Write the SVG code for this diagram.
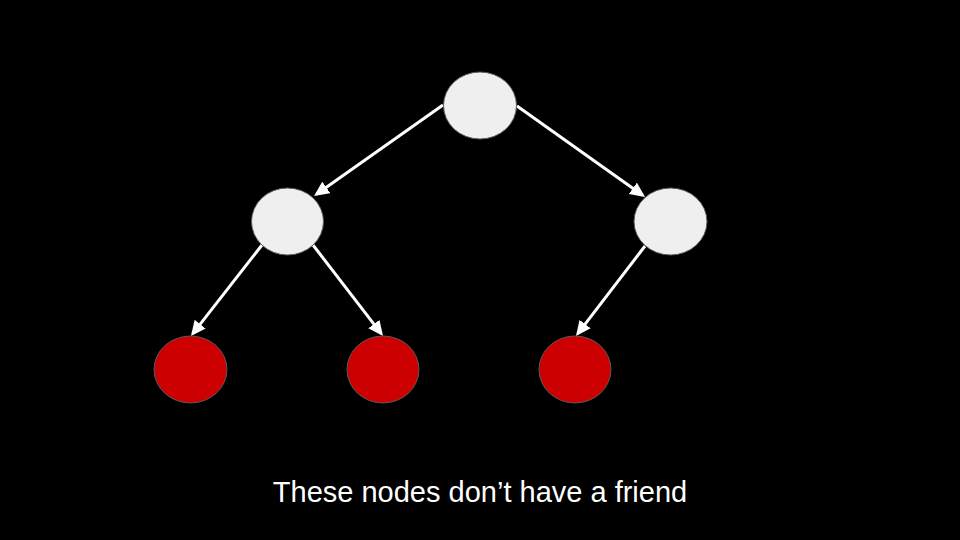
<svg xmlns="http://www.w3.org/2000/svg" width="960" height="540" viewBox="0 0 960 540">
  <style>
    .inner { fill: #efefef; stroke: #595959; stroke-width: 1; }
    .leaf { fill: #cc0000; stroke: #595959; stroke-width: 1; }
    .edge { stroke: #ffffff; stroke-width: 3; fill: none; marker-end: url(#arrow); }
    .label { font-family: "Liberation Sans", Arial, sans-serif; font-size: 29px; fill: #ffffff; }
  </style>
  <defs>
    <marker id="arrow" markerUnits="userSpaceOnUse" markerWidth="16" markerHeight="14" refX="12" refY="7" orient="auto">
      <path d="M0,0 L15,7 L0,14 z" fill="#ffffff"/>
    </marker>
  </defs>
  <rect x="0" y="0" width="960" height="540" fill="#000000"/>
  <g id="connectors">
    <line class="edge" x1="443" y1="105" x2="316.5" y2="194.3"/>
    <line class="edge" x1="517" y1="106" x2="642.6" y2="195.3"/>
    <line class="edge" x1="262" y1="245" x2="192.8" y2="333.6"/>
    <line class="edge" x1="313" y1="245" x2="381.2" y2="333.6"/>
    <line class="edge" x1="645" y1="246" x2="577.8" y2="333.6"/>
  </g>
  <g id="root"><ellipse class="inner" cx="480" cy="105.5" rx="36.5" ry="33.5"/></g>
  <g id="mid-left"><ellipse class="inner" cx="287.5" cy="221.5" rx="36" ry="33.5"/></g>
  <g id="mid-right"><ellipse class="inner" cx="670.5" cy="221.5" rx="36.5" ry="33.5"/></g>
  <g id="leaf-1"><ellipse class="leaf" cx="190.5" cy="369.5" rx="36.5" ry="33.5"/></g>
  <g id="leaf-2"><ellipse class="leaf" cx="383" cy="369.5" rx="36" ry="33.5"/></g>
  <g id="leaf-3"><ellipse class="leaf" cx="575" cy="369.5" rx="36" ry="33.5"/></g>
  <text class="label" x="480" y="502" text-anchor="middle">These nodes don’t have a friend</text>
</svg>
